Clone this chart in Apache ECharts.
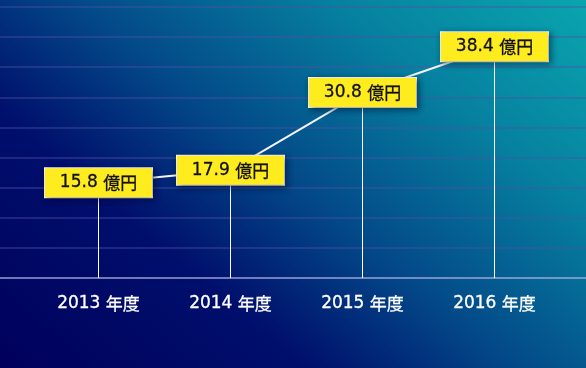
<!DOCTYPE html>
<html>
<head>
<meta charset="utf-8">
<style>
  html, body { margin: 0; padding: 0; }
  #chart { width: 586px; height: 368px; }
</style>
<script src="https://cdn.jsdelivr.net/npm/echarts@6/dist/echarts.min.js"></script>
</head>
<body>
<div id="chart"></div>
<script>
// Fiscal years and sales (unit: 億円)
const years = ['2013 年度', '2014 年度', '2015 年度', '2016 年度'];
const sales = [15.8, 17.9, 30.8, 38.4];
const unit = '億円';
const yMin = 0, yMax = 45, yStep = 5;

const chart = echarts.init(document.getElementById('chart'), null, { renderer: 'canvas' });

const latin = '"DejaVu Sans", sans-serif';
const cjk = '"Noto Sans CJK JP", sans-serif';

// split "2013 年度" / "15.8 億円" into a numeric part and a CJK part
const splitText = s => {
  const i = s.indexOf(' ');
  return '{n|' + s.slice(0, i) + ' }{c|' + s.slice(i + 1) + '}';
};

// medium-weight text: regular glyphs with a thin outline of the same colour
const textStyle = (color, size, family, extra) => Object.assign({
  color: color, fontSize: size, fontFamily: family,
  textBorderColor: color, textBorderWidth: 0.3
}, extra || {});

chart.setOption({
  backgroundColor: new echarts.graphic.LinearGradient(0, 1, 0.7186, -0.373, [
    { offset: 0, color: '#00005c' },
    { offset: 0.3, color: '#000f6c' },
    { offset: 0.5, color: '#034888' },
    { offset: 0.75, color: '#06809f' },
    { offset: 1, color: '#0aa5af' }
  ]),
  animation: false,
  grid: [
    // full-width grid carrying the horizontal rules and the baseline
    { left: 0, right: 0, top: 7, bottom: 90 },
    // data grid
    { left: 32.5, right: 25.5, top: 7, bottom: 90 }
  ],
  xAxis: [
    {
      gridIndex: 0, type: 'value', min: 0, max: 1,
      axisLine: { show: true, lineStyle: { color: 'rgba(215,220,255,0.45)', width: 2 } },
      axisTick: { show: false }, axisLabel: { show: false }, splitLine: { show: false }
    },
    {
      gridIndex: 1, type: 'category', data: years, boundaryGap: true,
      axisLine: { show: false }, axisTick: { show: false },
      axisLabel: {
        margin: 17,
        formatter: v => splitText(v),
        rich: {
          n: textStyle('#ffffff', 17, latin),
          c: textStyle('#ffffff', 17, cjk)
        }
      }
    }
  ],
  yAxis: [
    {
      gridIndex: 0, type: 'value', min: yMin, max: yMax, interval: yStep,
      axisLine: { show: false }, axisTick: { show: false }, axisLabel: { show: false },
      splitLine: { show: true, lineStyle: { color: 'rgba(80,80,165,0.4)', width: 2 } }
    },
    {
      gridIndex: 1, type: 'value', min: yMin, max: yMax, interval: yStep,
      axisLine: { show: false }, axisTick: { show: false }, axisLabel: { show: false },
      splitLine: { show: false }
    }
  ],
  series: [
    {
      // thin drop lines from each value down to the baseline
      type: 'bar', xAxisIndex: 1, yAxisIndex: 1,
      data: sales, barWidth: 1,
      itemStyle: { color: '#ffffff' },
      silent: true, z: 2
    },
    {
      type: 'line', xAxisIndex: 1, yAxisIndex: 1,
      data: sales,
      symbol: 'circle', symbolSize: 1,
      itemStyle: { color: '#ffffff' },
      lineStyle: { color: '#f4f4f4', width: 2 },
      z: 3,
      label: {
        show: true,
        position: 'inside',
        formatter: p => splitText(p.value + ' ' + unit),
        backgroundColor: '#ffec1f',
        borderColor: '#ffffff',
        borderWidth: 1,
        width: 107,
        height: 29,
        align: 'center',
        verticalAlign: 'middle',
        padding: 0,
        shadowColor: 'rgba(0,0,30,0.45)',
        shadowBlur: 6,
        shadowOffsetX: 2,
        shadowOffsetY: 2,
        rich: {
          n: textStyle('#111111', 17, latin, { lineHeight: 29 }),
          c: textStyle('#111111', 17, cjk, { lineHeight: 29 })
        }
      }
    }
  ]
});
</script>
</body>
</html>
